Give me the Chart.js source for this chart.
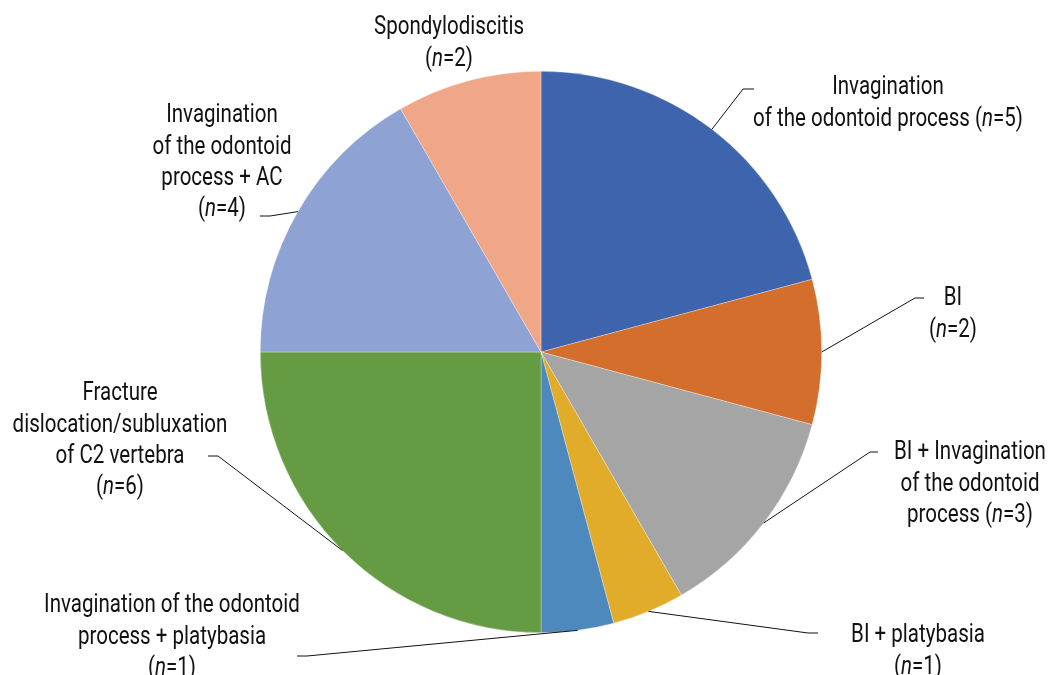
<!DOCTYPE html>
<html>
<head>
<meta charset="utf-8">
<script src="https://cdn.jsdelivr.net/npm/chart.js@4"></script>
<style>
  body { margin: 0; background: #fff; }
  canvas { display: block; }
</style>
</head>
<body>
<canvas id="pieChart" width="1049" height="675"></canvas>
<script>
// label lines for each slice (clockwise from 12 o'clock)
const categories = [
  ['Invagination', 'of the odontoid process (n=5)'],
  ['BI', '(n=2)'],
  ['BI + Invagination', 'of the odontoid', 'process (n=3)'],
  ['BI + platybasia', '(n=1)'],
  ['Invagination of the odontoid', 'process + platybasia', '(n=1)'],
  ['Fracture', 'dislocation/subluxation', 'of C2 vertebra', '(n=6)'],
  ['Invagination', 'of the odontoid', 'process + AC', '(n=4)'],
  ['Spondylodiscitis', '(n=2)']
];
const counts = [5, 2, 3, 1, 1, 6, 4, 2];
const colors = ['#3E64AE', '#D46E2C', '#A5A5A5', '#E2AC2B', '#4E89BE', '#659C43', '#8FA2D4', '#F0A788'];

// where each label sits: text centre x, first line y, and leader elbow [x, y, endX]
const labelPos = [
  { x: 888, y: 88, elbow: [743, 89, 754] },
  { x: 953, y: 299, elbow: [915, 298, 924] },
  { x: 970, y: 453, elbow: [870, 452, 878] },
  { x: 918, y: 636, elbow: [808, 633, 818] },
  { x: 172, y: 606, elbow: [307, 656, 297] },
  { x: 120, y: 394, elbow: [218, 456, 208] },
  { x: 222, y: 116, elbow: [270, 216, 260] },
  { x: 449, y: 28, elbow: null }
];

const FONT = 'Roboto, "DejaVu Sans", sans-serif';
const FSIZE = 25;
const LINE_H = 31.4;
// the original uses a condensed face; squeeze a regular one to the same width
const REF_LINE = 'of the odontoid process (n=5)';
const REF_WIDTH = 270;
let squeeze = 0.8;

function splitRich(text) {
  const segs = [];
  text.split(/(\(n=)/).forEach(p => {
    if (p === '(n=') {
      segs.push({ t: '(', it: false }, { t: 'n', it: true }, { t: '=', it: false });
    } else if (p) {
      segs.push({ t: p, it: false });
    }
  });
  return segs;
}

function richWidth(ctx, segs) {
  let total = 0;
  segs.forEach(s => {
    ctx.font = (s.it ? 'italic ' : '') + FSIZE + 'px ' + FONT;
    s.w = ctx.measureText(s.t).width;
    total += s.w;
  });
  return total;
}

function drawRichLine(ctx, text, cx, y) {
  const segs = splitRich(text);
  const total = richWidth(ctx, segs);
  ctx.save();
  ctx.translate(cx, y);
  ctx.scale(squeeze, 1);
  let x = -total / 2;
  segs.forEach(s => {
    ctx.font = (s.it ? 'italic ' : '') + FSIZE + 'px ' + FONT;
    ctx.fillText(s.t, x, 0);
    x += s.w;
  });
  ctx.restore();
}

const labelPlugin = {
  id: 'sliceLabels',
  afterDraw(chart) {
    const ctx = chart.ctx;
    const arcs = chart.getDatasetMeta(0).data;
    ctx.save();
    squeeze = REF_WIDTH / richWidth(ctx, splitRich(REF_LINE));
    ctx.fillStyle = '#111';
    ctx.textAlign = 'left';
    ctx.textBaseline = 'middle';
    ctx.strokeStyle = '#111';
    ctx.lineWidth = 1;
    arcs.forEach((arc, i) => {
      const p = arc.getProps(['x', 'y', 'startAngle', 'endAngle', 'outerRadius'], true);
      const mid = (p.startAngle + p.endAngle) / 2;
      const ax = p.x + Math.cos(mid) * p.outerRadius;
      const ay = p.y + Math.sin(mid) * p.outerRadius;
      const lp = labelPos[i];
      if (lp.elbow) {
        ctx.beginPath();
        ctx.moveTo(ax, ay);
        ctx.lineTo(lp.elbow[0], lp.elbow[1]);
        ctx.lineTo(lp.elbow[2], lp.elbow[1]);
        ctx.stroke();
      }
      categories[i].forEach((line, k) => {
        drawRichLine(ctx, line, lp.x, lp.y + k * LINE_H);
      });
    });
    ctx.restore();
  }
};

new Chart(document.getElementById('pieChart'), {
  type: 'pie',
  data: {
    labels: categories.map(c => c.join(' ')),
    datasets: [{
      data: counts,
      backgroundColor: colors,
      borderColor: 'rgba(255,255,255,0.6)',
      borderWidth: 0.5
    }]
  },
  options: {
    responsive: false,
    animation: false,
    layout: { padding: { top: 71, bottom: 42, left: 33, right: 0 } },
    plugins: {
      legend: { display: false },
      tooltip: { enabled: false }
    }
  },
  plugins: [labelPlugin]
});
</script>
</body>
</html>
